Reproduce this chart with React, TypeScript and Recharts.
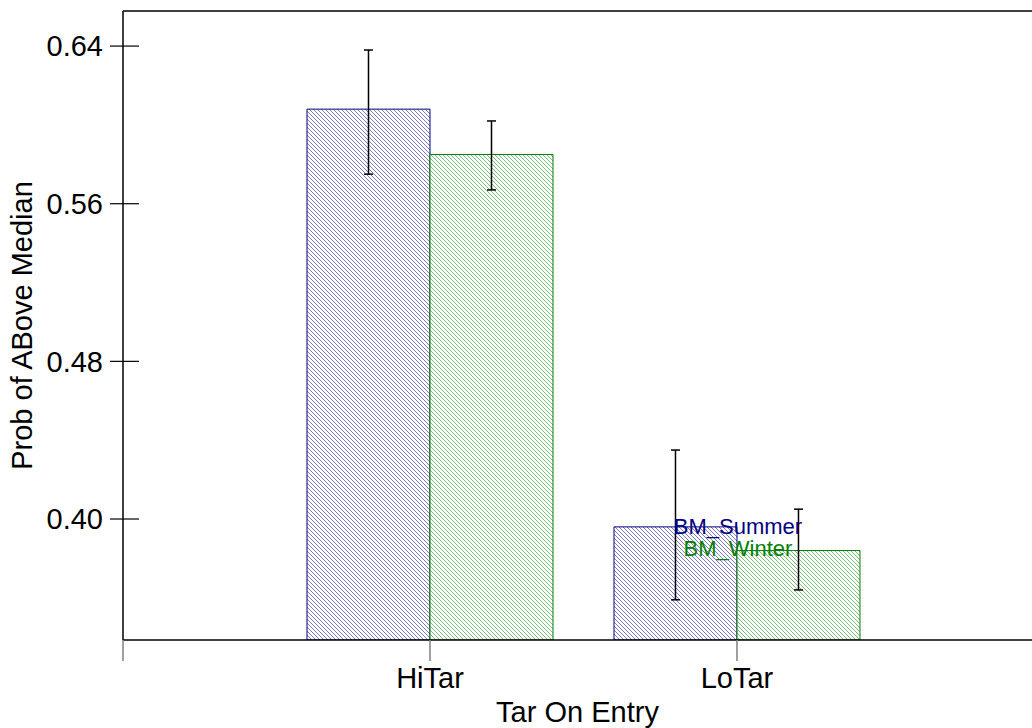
import { BarChart, Bar, XAxis, YAxis, ErrorBar, Legend, ReferenceLine, Label } from "recharts";

const categories = ["HiTar", "LoTar"];
const seriesNames = ["BM_Summer", "BM_Winter"];
const seriesColors = ["#000080", "#008000"];
const summerValues = [0.608, 0.396];
const summerErrors = [[0.033, 0.03], [0.037, 0.039]];
const winterValues = [0.585, 0.384];
const winterErrors = [[0.018, 0.017], [0.02, 0.021]];
const yTicks = [0.4, 0.48, 0.56, 0.64];
const yDomain = [0.3386, 0.6578];
const xTicks = [0, 1, 2];
const xDomain = [0, 2.961];

const data = categories.map((cat, i) => ({
  pos: i + 1,
  cat,
  summer: summerValues[i],
  summerErr: summerErrors[i],
  winter: winterValues[i],
  winterErr: winterErrors[i],
}));

const font = "'Liberation Sans', Arial, sans-serif";

function YTick(props: any) {
  const { x, y, payload } = props;
  return (
    <g>
      <line x1={x - 13} x2={x + 16} y1={y} y2={y} stroke="#000" strokeWidth={1.2} />
      <text x={x - 20} y={y} dy="0.355em" textAnchor="end" fontSize={29} fill="#000" fontFamily={font}>
        {Number(payload.value).toFixed(2)}
      </text>
    </g>
  );
}

function LegendBox() {
  return (
    <div style={{ textAlign: "center", fontSize: 22, lineHeight: "22px", fontFamily: font }}>
      {seriesNames.map((n, i) => (
        <div key={n} style={{ color: seriesColors[i] }}>
          {n}
        </div>
      ))}
    </div>
  );
}

export default function App() {
  return (
    <div style={{ position: "absolute", left: 0, top: 0, fontFamily: font }}>
      <BarChart
        width={1032}
        height={728}
        data={data}
        margin={{ top: 11, right: 0, bottom: 0, left: 0 }}
        barCategoryGap={30.5}
        barGap={0}
      >
        <defs>
          <pattern id="hatchBlue" patternUnits="userSpaceOnUse" width={4} height={4}>
            <rect width={4} height={4} fill="#fff" />
            <path d="M-1,-1 L5,5 M-1,3 L1,5 M3,-1 L5,1" stroke="#5c5cad" strokeWidth={0.8} />
          </pattern>
          <pattern id="hatchGreen" patternUnits="userSpaceOnUse" width={4} height={4}>
            <rect width={4} height={4} fill="#fff" />
            <path d="M-1,-1 L5,5 M-1,3 L1,5 M3,-1 L5,1" stroke="#5cad5c" strokeWidth={0.8} />
          </pattern>
        </defs>
        <XAxis
          type="number"
          dataKey="pos"
          domain={xDomain}
          ticks={xTicks}
          interval={0}
          allowDataOverflow
          tickFormatter={(v: number) => categories[v - 1] ?? ""}
          height={88}
          tickSize={21}
          tickMargin={6}
          tickLine={{ stroke: "#808080", strokeWidth: 1.5 }}
          axisLine={{ stroke: "#000", strokeWidth: 1.5 }}
          tick={{ fontSize: 29, fill: "#000", fontFamily: font }}
        >
          <Label
            value="Tar On Entry"
            position="insideBottom"
            offset={6}
            style={{ fontSize: 29, fill: "#000", fontFamily: font }}
          />
        </XAxis>
        <YAxis
          type="number"
          domain={yDomain}
          ticks={yTicks}
          interval={0}
          allowDataOverflow
          width={123}
          tickSize={0}
          tickMargin={0}
          tickLine={false}
          axisLine={{ stroke: "#000", strokeWidth: 1.5 }}
          tick={<YTick />}
        >
          <Label
            value="Prob of ABove Median"
            position="insideLeft"
            angle={-90}
            offset={22}
            style={{ fontSize: 29, fill: "#000", fontFamily: font, textAnchor: "middle" }}
          />
        </YAxis>
        <ReferenceLine y={yDomain[1]} stroke="#000" strokeWidth={1.5} />
        <Bar
          dataKey="summer"
          name={seriesNames[0]}
          fill="url(#hatchBlue)"
          stroke={seriesColors[0]}
          strokeWidth={1}
          isAnimationActive={false}
        >
          <ErrorBar dataKey="summerErr" width={4.5} stroke="#000" strokeWidth={1.5} />
        </Bar>
        <Bar
          dataKey="winter"
          name={seriesNames[1]}
          fill="url(#hatchGreen)"
          stroke={seriesColors[1]}
          strokeWidth={1}
          isAnimationActive={false}
        >
          <ErrorBar dataKey="winterErr" width={4.5} stroke="#000" strokeWidth={1.5} />
        </Bar>
        <Legend
          layout="vertical"
          align="center"
          verticalAlign="middle"
          content={<LegendBox />}
          wrapperStyle={{ left: 638, top: 516, width: 200 }}
        />
      </BarChart>
    </div>
  );
}
